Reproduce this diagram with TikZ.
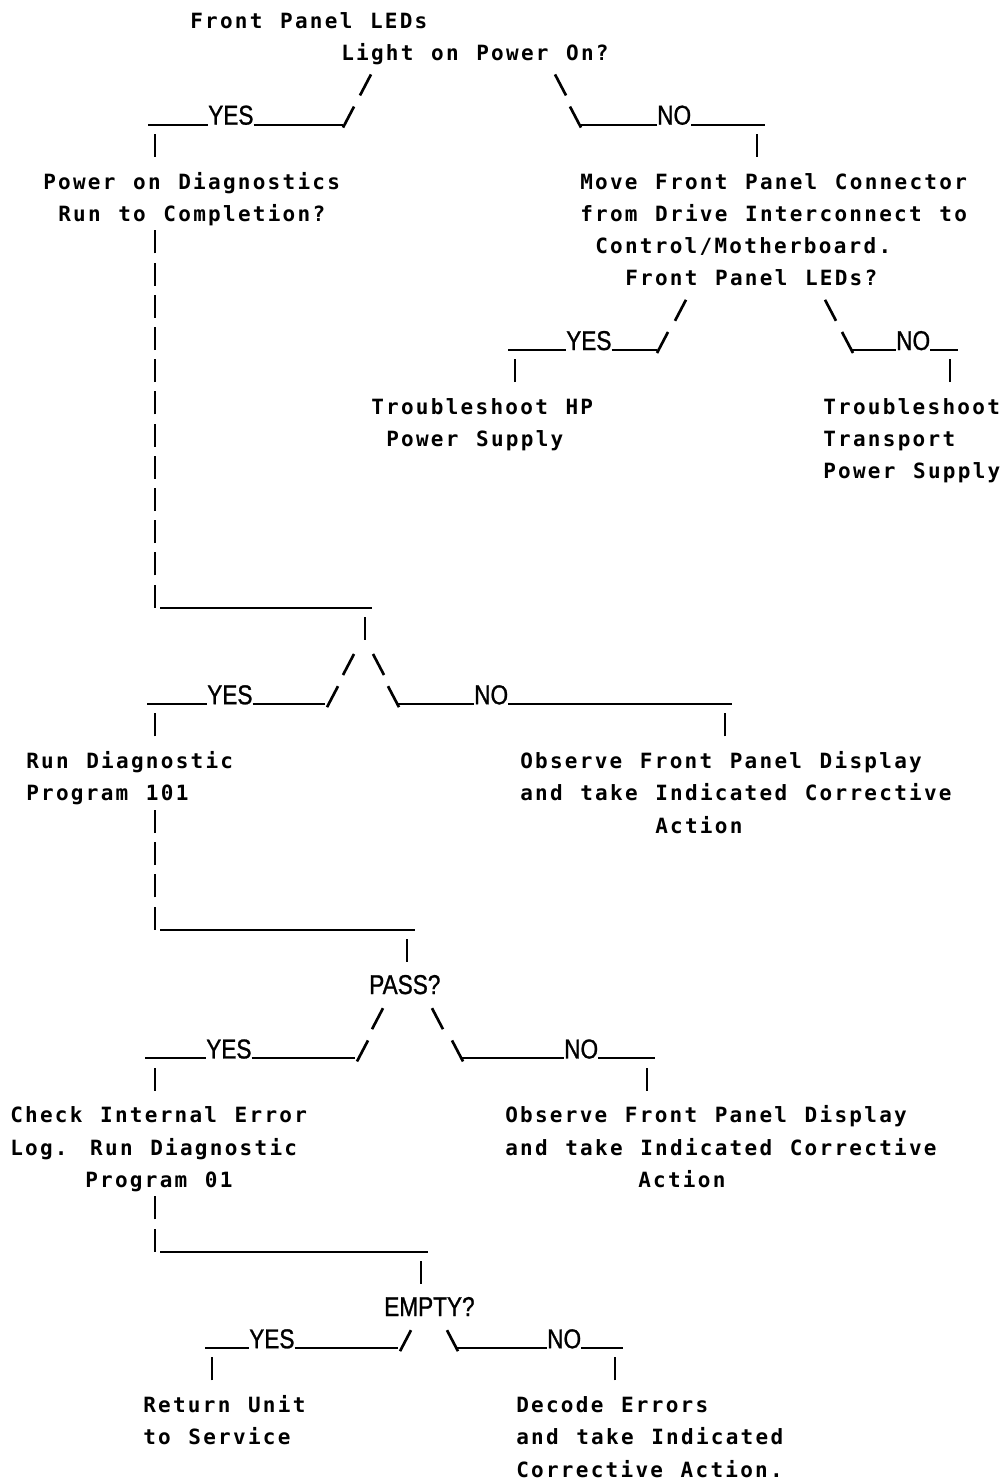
\documentclass[tikz,border=0pt]{standalone}
\usepackage{fontspec}
\newfontfamily\termfont[LetterSpace=10.8,WordSpace=1.18]{DejaVu Sans Mono}
\newfontfamily\tagfont[FakeStretch=0.83,FakeBold=1]{Liberation Sans}

% baseline of text row #1 (pixel grid, y grows downwards)
\newcommand\ry[1]{28+32.2*(#1)}
% the little ascii strokes: | / \
\newcommand\barstroke[2]{\draw[bar] (#1,{\ry{#2}}) -- ++(0,-23);}
\newcommand\upstroke[2]{\draw[slant] (#1,{\ry{#2}+3}) -- ++(11,-21);}
\newcommand\downstroke[2]{\draw[slant] (#1,{\ry{#2}-18}) -- ++(11,21);}

\begin{document}
\begin{tikzpicture}[x=0.75pt,y=-0.75pt,inner sep=0pt]
  % Styles
  \tikzset{txt/.style={anchor=base west,xshift=-1.5pt,
             font=\termfont\bfseries\fontsize{15.75}{18}\selectfont},
           tag/.style={anchor=base west,
             font=\tagfont\fontsize{20.4}{22}\selectfont},
           rail/.style={line width=1.5pt},
           bar/.style={line width=2.2pt},
           slant/.style={line width=2pt}}

  \fill[white] (0,0) rectangle (1005,1481);

  % first question
  \node[txt] (ledq)  at (192,{\ry{0}}) {Front Panel LEDs};
  \node[txt] (ledq2) at (343,{\ry{1}}) {Light on Power On?};
  \upstroke{360}{2} \downstroke{555}{2}
  \upstroke{343}{3} \downstroke{570}{3}
  \node[tag] (yes1) at (208,{\ry{3}}) {YES};
  \node[tag] (no1)  at (657,{\ry{3}}) {NO};
  \draw[rail] (148,{\ry{3}}) -- (yes1.base west);
  \draw[rail] (yes1.base east) -- (343,{\ry{3}});
  \draw[rail] (581,{\ry{3}}) -- (no1.base west);
  \draw[rail] (no1.base east) -- (765,{\ry{3}});
  \barstroke{155}{4} \barstroke{757}{4}

  % yes branch: power on diagnostics
  \node[txt] (pod)  at (45,{\ry{5}}) {Power on Diagnostics};
  \node[txt] (pod2) at (60,{\ry{6}}) {Run to Completion?};

  % no branch: move the connector
  \node[txt] (mvc)  at (582,{\ry{5}}) {Move Front Panel Connector};
  \node[txt] (mvc2) at (582,{\ry{6}}) {from Drive Interconnect to};
  \node[txt] (mvc3) at (597,{\ry{7}}) {Control/Motherboard.};
  \node[txt] (mvc4) at (627,{\ry{8}}) {Front Panel LEDs?};
  \upstroke{675}{9} \downstroke{825}{9}
  \node[tag] (yes2) at (566,{\ry{10}}) {YES};
  \node[tag] (no2)  at (896,{\ry{10}}) {NO};
  \draw[rail] (508,{\ry{10}}) -- (yes2.base west);
  \draw[rail] (yes2.base east) -- (657,{\ry{10}});
  \upstroke{657}{10} \downstroke{842}{10}
  \draw[rail] (852,{\ry{10}}) -- (no2.base west);
  \draw[rail] (no2.base east) -- (958,{\ry{10}});
  \barstroke{515}{11} \barstroke{950}{11}
  \node[txt] (hpps)  at (373,{\ry{12}}) {Troubleshoot HP};
  \node[txt] (hpps2) at (388,{\ry{13}}) {Power Supply};
  \node[txt] (tps)   at (825,{\ry{12}}) {Troubleshoot};
  \node[txt] (tps2)  at (825,{\ry{13}}) {Transport};
  \node[txt] (tps3)  at (825,{\ry{14}}) {Power Supply};

  % long drop down the left side
  \foreach \r in {7,...,18} \barstroke{155}{\r};
  \draw[rail] (160,{\ry{18}}) -- (372,{\ry{18}});
  \barstroke{365}{19}
  \upstroke{343}{20} \downstroke{373}{20}
  \node[tag] (yes3) at (207,{\ry{21}}) {YES};
  \node[tag] (no3)  at (474,{\ry{21}}) {NO};
  \draw[rail] (147,{\ry{21}}) -- (yes3.base west);
  \draw[rail] (yes3.base east) -- (325,{\ry{21}});
  \upstroke{327}{21} \downstroke{388}{21}
  \draw[rail] (398,{\ry{21}}) -- (no3.base west);
  \draw[rail] (no3.base east) -- (732,{\ry{21}});
  \barstroke{155}{22} \barstroke{725}{22}

  \node[txt] (rd)   at (28,{\ry{23}}) {Run Diagnostic};
  \node[txt] (rd2)  at (28,{\ry{24}}) {Program 101};
  \node[txt] (obs)  at (522,{\ry{23}}) {Observe Front Panel Display};
  \node[txt] (obs2) at (522,{\ry{24}}) {and take Indicated Corrective};
  \node[txt] (obs3) at (657,{\ry{25}}) {Action};

  % PASS? test
  \foreach \r in {25,...,28} \barstroke{155}{\r};
  \draw[rail] (160,{\ry{28}}) -- (415,{\ry{28}});
  \barstroke{407}{29}
  \node[tag] (pass) at (369,{\ry{30}}) {PASS?};
  \upstroke{372}{31} \downstroke{432}{31}
  \node[tag] (yes4) at (206,{\ry{32}}) {YES};
  \node[tag] (no4)  at (564,{\ry{32}}) {NO};
  \draw[rail] (145,{\ry{32}}) -- (yes4.base west);
  \draw[rail] (yes4.base east) -- (355,{\ry{32}});
  \upstroke{357}{32} \downstroke{452}{32}
  \draw[rail] (462,{\ry{32}}) -- (no4.base west);
  \draw[rail] (no4.base east) -- (655,{\ry{32}});
  \barstroke{155}{33} \barstroke{647}{33}

  \node[txt] (chk)   at (12,{\ry{34}}) {Check Internal Error};
  \node[txt] (chk2)  at (12,{\ry{35}}) {Log. Run Diagnostic};
  \node[txt] (chk3)  at (87,{\ry{36}}) {Program 01};
  \node[txt] (obsb)  at (507,{\ry{34}}) {Observe Front Panel Display};
  \node[txt] (obsb2) at (507,{\ry{35}}) {and take Indicated Corrective};
  \node[txt] (obsb3) at (640,{\ry{36}}) {Action};

  % EMPTY? test
  \barstroke{155}{37} \barstroke{155}{38}
  \draw[rail] (160,{\ry{38}}) -- (428,{\ry{38}});
  \barstroke{421}{39}
  \node[tag] (empty) at (384,{\ry{40}}) {EMPTY?};
  \node[tag] (yes5) at (249,{\ry{41}}) {YES};
  \node[tag] (no5)  at (547,{\ry{41}}) {NO};
  \draw[rail] (205,{\ry{41}}) -- (yes5.base west);
  \draw[rail] (yes5.base east) -- (398,{\ry{41}});
  \upstroke{400}{41} \downstroke{447}{41}
  \draw[rail] (457,{\ry{41}}) -- (no5.base west);
  \draw[rail] (no5.base east) -- (623,{\ry{41}});
  \barstroke{212}{42} \barstroke{615}{42}

  \node[txt] (ret)  at (145,{\ry{43}}) {Return Unit};
  \node[txt] (ret2) at (145,{\ry{44}}) {to Service};
  \node[txt] (dec)  at (518,{\ry{43}}) {Decode Errors};
  \node[txt] (dec2) at (518,{\ry{44}}) {and take Indicated};
  \node[txt] (dec3) at (518,{\ry{45}}) {Corrective Action.};
\end{tikzpicture}
\end{document}
